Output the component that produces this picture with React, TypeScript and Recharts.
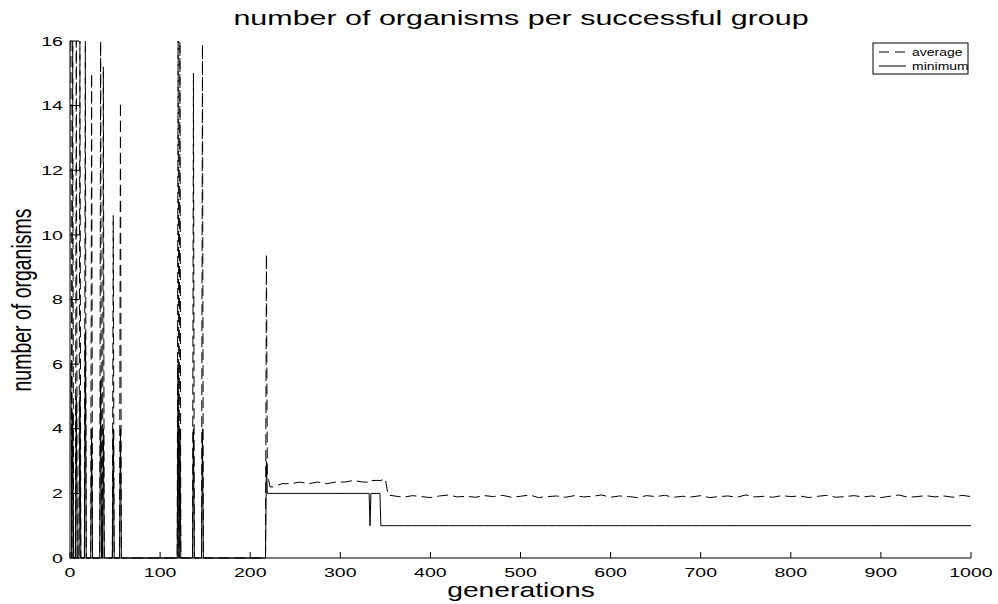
import { LineChart, Line, XAxis, YAxis } from "recharts";

// generation numbers where a value was recorded (0 = no successful group)
const generations = [
  0, 1, 2, 3, 4, 6, 7, 8, 10, 11, 12, 16, 17, 18, 23, 24, 25, 33, 34, 35, 36, 37, 38,
  47, 48, 49, 55, 56, 57, 119, 120, 121, 122, 123, 136, 137, 138, 146, 147, 148,
  217, 218, 219, 222, 226, 235, 245, 255, 265, 275, 285, 295, 305, 315, 325, 332,
  333, 334, 340, 344, 345, 350, 353, 360, 370, 380, 390, 400, 410, 420, 430, 440,
  450, 460, 470, 480, 490, 500, 510, 520, 530, 540, 550, 560, 570, 580, 590, 600,
  610, 620, 630, 640, 650, 660, 670, 680, 690, 700, 710, 720, 730, 740, 750, 760,
  770, 780, 790, 800, 810, 820, 830, 840, 850, 860, 870, 880, 890, 900, 910, 920,
  930, 940, 950, 960, 970, 980, 990, 1000,
];

const averageOrganisms = [
  16, 16, 0, 16, 0, 0, 16, 0, 0, 16, 0, 0, 16, 0, 0, 15, 0, 0, 16, 0, 0, 15.2, 0,
  0, 10.6, 0, 0, 14.1, 0, 0, 16, 0, 16, 0, 0, 15, 0, 0, 15.9, 0,
  0, 9.4, 2.6, 2.2, 2.2, 2.3, 2.3, 2.35, 2.3, 2.35, 2.3, 2.35, 2.35, 2.4, 2.35, 2.35,
  2.35, 2.4, 2.4, 2.4, 2.4, 2.45, 1.95, 1.92, 1.88, 1.93, 1.9, 1.87, 1.92, 1.95, 1.89, 1.91,
  1.88, 1.93, 1.9, 1.94, 1.88, 1.91, 1.95, 1.87, 1.9, 1.92, 1.88, 1.93, 1.89, 1.91, 1.95, 1.88,
  1.92, 1.9, 1.87, 1.93, 1.9, 1.94, 1.88, 1.91, 1.89, 1.93, 1.87, 1.9, 1.92, 1.88, 1.95, 1.89,
  1.91, 1.88, 1.93, 1.9, 1.92, 1.87, 1.91, 1.94, 1.88, 1.9, 1.93, 1.89, 1.92, 1.87, 1.91, 1.95,
  1.88, 1.9, 1.93, 1.89, 1.92, 1.88, 1.94, 1.9,
];

const minimumOrganisms = [
  6, 6, 0, 4.5, 0, 0, 5, 0, 0, 5, 0, 0, 7, 0, 0, 4, 0, 0, 5.5, 0, 0, 4, 0,
  0, 4, 0, 0, 4, 0, 0, 6, 0, 4, 0, 0, 4, 0, 0, 4, 0,
  0, 3, 2, 2, 2, 2, 2, 2, 2, 2, 2, 2, 2, 2, 2, 2,
  1, 2, 2, 2, 1, 1, 1, 1, 1, 1, 1, 1, 1, 1, 1, 1,
  1, 1, 1, 1, 1, 1, 1, 1, 1, 1, 1, 1, 1, 1, 1, 1,
  1, 1, 1, 1, 1, 1, 1, 1, 1, 1, 1, 1, 1, 1, 1, 1,
  1, 1, 1, 1, 1, 1, 1, 1, 1, 1, 1, 1, 1, 1, 1, 1,
  1, 1, 1, 1, 1, 1, 1, 1,
];

const xTicks = [0, 100, 200, 300, 400, 500, 600, 700, 800, 900, 1000];
const yTicks = [0, 2, 4, 6, 8, 10, 12, 14, 16];

const data = generations.map((g, i) => ({
  gen: g,
  average: averageOrganisms[i],
  minimum: minimumOrganisms[i],
}));

const FONT = '"Liberation Sans", Arial, sans-serif';
const STRETCH = 1.45;
const DASH = "11 5";

const YTick = ({ x, y, payload }: any) => (
  <g>
    <line x1={x} x2={x + 9} y1={y} y2={y} stroke="#000" strokeWidth={1} />
    <text
      transform={`translate(${x - 7},${y}) scale(${STRETCH},1)`}
      textAnchor="end"
      dy="0.35em"
      fontSize={13.5}
      fontFamily={FONT}
      fill="#000"
    >
      {payload.value}
    </text>
  </g>
);

const XTick = ({ x, y, payload }: any) => (
  <g>
    <line x1={x} x2={x} y1={y} y2={y - 6} stroke="#000" strokeWidth={1} />
    <text
      transform={`translate(${x},${y + 19}) scale(${STRETCH},1)`}
      textAnchor="middle"
      fontSize={13.5}
      fontFamily={FONT}
      fill="#000"
    >
      {payload.value}
    </text>
  </g>
);

export default function App() {
  return (
    <div
      style={{
        position: "fixed",
        left: 0,
        top: 0,
        width: 998,
        height: 604,
        background: "#fff",
      }}
    >
      <LineChart
        width={998}
        height={604}
        data={data}
        margin={{ top: 41, right: 27, bottom: 0, left: 0 }}
      >
        <XAxis
          dataKey="gen"
          type="number"
          domain={[0, 1000]}
          ticks={xTicks}
          height={46}
          tickSize={0}
          tickMargin={0}
          tickLine={false}
          axisLine={{ stroke: "#000", strokeWidth: 1 }}
          tick={<XTick />}
          interval={0}
        />
        <YAxis
          type="number"
          domain={[0, 16]}
          ticks={yTicks}
          width={70}
          tickSize={0}
          tickMargin={0}
          tickLine={false}
          axisLine={{ stroke: "#000", strokeWidth: 1 }}
          tick={<YTick />}
          interval={0}
        />
        <Line
          type="linear"
          dataKey="average"
          stroke="#000"
          strokeWidth={1}
          strokeDasharray={DASH}
          dot={false}
          isAnimationActive={false}
        />
        <Line
          type="linear"
          dataKey="minimum"
          stroke="#000"
          strokeWidth={1}
          dot={false}
          isAnimationActive={false}
        />
      </LineChart>

      {/* title, axis labels and legend */}
      <svg
        width={998}
        height={604}
        style={{ position: "absolute", left: 0, top: 0, pointerEvents: "none" }}
      >
        <text
          transform={`translate(521,25) scale(${STRETCH},1)`}
          textAnchor="middle"
          fontSize={21}
          fontFamily={FONT}
          fill="#000"
        >
          number of organisms per successful group
        </text>
        <text
          transform={`translate(521,597) scale(${STRETCH},1)`}
          textAnchor="middle"
          fontSize={19.5}
          fontFamily={FONT}
          fill="#000"
        >
          generations
        </text>
        <text
          transform={`translate(31,300) scale(${STRETCH},1) rotate(-90)`}
          textAnchor="middle"
          fontSize={19.5}
          fontFamily={FONT}
          fill="#000"
        >
          number of organisms
        </text>

        <rect x={873} y={43} width={95} height={31} fill="#fff" stroke="#000" strokeWidth={1} />
        <line x1={879} x2={906} y1={52} y2={52} stroke="#000" strokeDasharray="10 6" />
        <line x1={879} x2={906} y1={66} y2={66} stroke="#000" />
        <text
          transform={`translate(912,52) scale(1.4,1)`}
          dy="0.35em"
          fontSize={10}
          fontFamily={FONT}
          fill="#000"
        >
          average
        </text>
        <text
          transform={`translate(912,66) scale(1.4,1)`}
          dy="0.35em"
          fontSize={10}
          fontFamily={FONT}
          fill="#000"
        >
          minimum
        </text>
      </svg>
    </div>
  );
}
